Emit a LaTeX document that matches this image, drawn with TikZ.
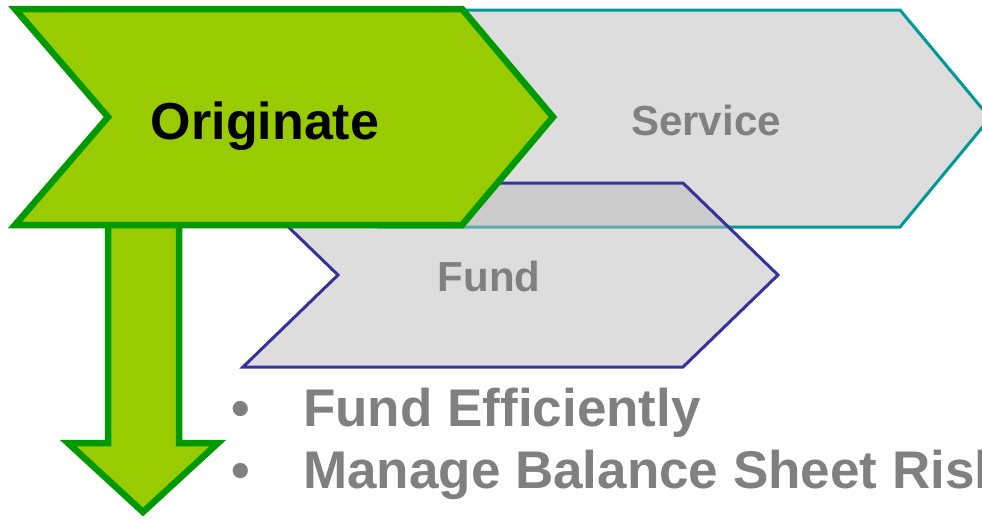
\documentclass[tikz,border=0pt]{standalone}
\usepackage{fontspec}
\setmainfont{Liberation Sans}
\definecolor{origfill}{HTML}{99CC00}
\definecolor{origline}{HTML}{009900}
\definecolor{servline}{HTML}{009999}
\definecolor{fundline}{HTML}{333399}
\definecolor{boxgray}{HTML}{DDDDDD}
\definecolor{fundgray}{HTML}{BBBBBB}
\definecolor{txtgray}{HTML}{808080}
\tikzset{
  greenshape/.style={draw=origline, fill=origfill, line width=6.5pt, line join=miter},
  servshape/.style={draw=servline, fill=boxgray, line width=3pt, line join=miter},
  fundshape/.style={draw=fundline, fill=fundgray, fill opacity=0.5, line width=3pt, line join=miter},
  bigtxt/.style={inner sep=0pt, font=\bfseries\fontsize{52}{60}\selectfont},
  midtxt/.style={inner sep=0pt, text=txtgray, font=\bfseries\fontsize{42}{50}\selectfont},
  listtxt/.style={inner sep=0pt, text=txtgray, anchor=base west, font=\bfseries\fontsize{53}{60}\selectfont}
}
\begin{document}
\begin{tikzpicture}[x=1pt,y=-1pt]
\useasboundingbox (0,0) rectangle (982,520);
\clip (0,0) rectangle (982,520);
% Service chevron
\draw[servshape] (380,10) -- (900,10) -- (990,118) -- (900,227) -- (380,227) -- (470,118) -- cycle;
% Fund chevron
\draw[fundshape] (243,183) -- (683,183) -- (778,275) -- (683,367) -- (243,367) -- (338,275) -- cycle;
% Down arrow
\draw[greenshape] (108,200) -- (108,443) -- (68,443) -- (143,512) -- (218,443) -- (179,443) -- (179,200);
% Originate chevron
\draw[greenshape] (15,9) -- (462,9) -- (553,117) -- (462,225) -- (15,225) -- (108,117) -- cycle;
% Labels
\node[bigtxt, anchor=base] (orig) at (265,139) {Originate};
\node[midtxt, anchor=base] (serv) at (706,135) {Service};
\node[midtxt, anchor=base] (fund) at (489,291) {Fund};
\node[listtxt] (b1) at (231,426) {•};
\node[listtxt] (l1) at (303,426) {Fund Efficiently};
\node[listtxt] (b2) at (231,488) {•};
\node[listtxt] (l2) at (303,488) {Manage Balance Sheet Risk};
\end{tikzpicture}
\end{document}
